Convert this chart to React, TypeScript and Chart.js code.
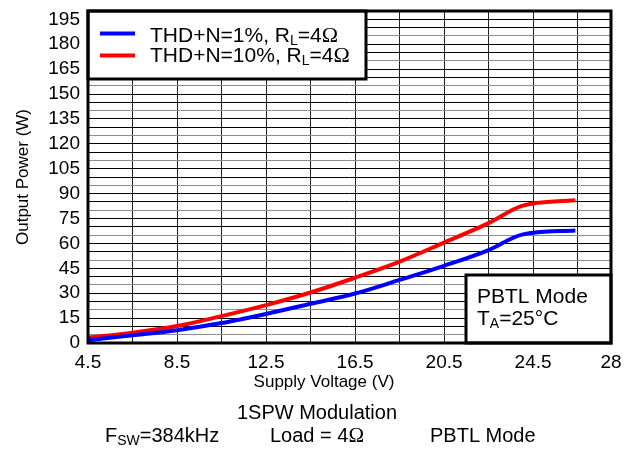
import React, { useEffect, useRef } from 'react';
import { Chart, registerables } from 'chart.js';

Chart.register(...registerables);

// ---- data ----
const VOLTAGE = [4.5, 6.5, 8.5, 10.5, 12.5, 14.5, 16.5, 18.5, 20.5, 22.5, 24, 26.4];
const THD_1 = [1.7, 4.6, 7.7, 12, 17.5, 23.6, 29.8, 38, 46.5, 56, 65.3, 67.8];
const THD_10 = [3.2, 6.2, 10.2, 16.2, 22.8, 30.4, 39.3, 49, 60.5, 72.2, 82.6, 86];

const X_GRID = [4.5, 6.5, 8.5, 10.5, 12.5, 14.5, 16.5, 18.5, 20.5, 22.5, 24.5, 26.5, 28];
const X_LABELS = [4.5, 8.5, 12.5, 16.5, 20.5, 24.5, 28];
const Y_LABELS = [0, 15, 30, 45, 60, 75, 90, 105, 120, 135, 150, 165, 180, 195];

const SANS = '"Liberation Sans", Arial, sans-serif';
const SERIF = '"Liberation Serif", "Times New Roman", serif';

type Part = { t: string; size: number; serif?: boolean; dy?: number };

function drawRich(ctx: CanvasRenderingContext2D, parts: Part[], x: number, y: number) {
  let cx = x;
  for (const p of parts) {
    ctx.font = `${p.size}px ${p.serif ? SERIF : SANS}`;
    ctx.fillText(p.t, cx, y + (p.dy || 0));
    cx += ctx.measureText(p.t).width;
  }
}

const overlay = {
  id: 'overlay',
  afterDraw(chart: any) {
    const { ctx, chartArea: a } = chart;
    ctx.save();
    ctx.fillStyle = '#000';
    ctx.textBaseline = 'alphabetic';
    ctx.textAlign = 'left';

    // legend box
    ctx.fillStyle = '#fff';
    ctx.fillRect(a.left, a.top, 278, 68);
    ctx.strokeStyle = '#000';
    ctx.lineWidth = 3;
    ctx.strokeRect(a.left, a.top, 278, 68);

    ctx.lineWidth = 4;
    ctx.strokeStyle = '#0000ff';
    ctx.beginPath();
    ctx.moveTo(a.left + 12, 33.5);
    ctx.lineTo(a.left + 47, 33.5);
    ctx.stroke();
    ctx.strokeStyle = '#ff0000';
    ctx.beginPath();
    ctx.moveTo(a.left + 12, 55.5);
    ctx.lineTo(a.left + 47, 55.5);
    ctx.stroke();

    ctx.fillStyle = '#000';
    drawRich(ctx, [
      { t: 'THD+N=1%, R', size: 21 },
      { t: 'L', size: 14, dy: 3 },
      { t: '=4', size: 21 },
      { t: 'Ω', size: 22, serif: true },
    ], 150, 42);
    drawRich(ctx, [
      { t: 'THD+N=10%, R', size: 21 },
      { t: 'L', size: 14, dy: 3 },
      { t: '=4', size: 21 },
      { t: 'Ω', size: 22, serif: true },
    ], 150, 62);

    // PBTL box
    const bx = 466, by = 275;
    ctx.fillStyle = '#fff';
    ctx.fillRect(bx, by, a.right - bx, a.bottom - by);
    ctx.strokeStyle = '#000';
    ctx.lineWidth = 3;
    ctx.strokeRect(bx, by, a.right - bx, a.bottom - by);
    ctx.fillStyle = '#000';
    drawRich(ctx, [{ t: 'PBTL Mode', size: 21 }], 477, 303);
    drawRich(ctx, [
      { t: 'T', size: 21 },
      { t: 'A', size: 14, dy: 3 },
      { t: '=25°C', size: 21 },
    ], 477, 325);

    // plot border
    ctx.lineWidth = 3;
    ctx.strokeRect(a.left, a.top, a.right - a.left, a.bottom - a.top);

    // axis titles
    ctx.font = `17px ${SANS}`;
    ctx.textAlign = 'center';
    ctx.textBaseline = 'middle';
    ctx.fillText('Supply Voltage (V)', 324, 382);
    ctx.save();
    ctx.translate(23, 177);
    ctx.rotate(-Math.PI / 2);
    ctx.fillText('Output Power (W)', 0, 0);
    ctx.restore();

    // caption lines
    ctx.font = `20px ${SANS}`;
    ctx.fillText('1SPW Modulation', 317, 413);
    ctx.textAlign = 'left';
    ctx.textBaseline = 'alphabetic';
    drawRich(ctx, [
      { t: 'F', size: 20 },
      { t: 'SW', size: 14, dy: 3 },
      { t: '=384kHz', size: 20 },
    ], 105, 442);
    drawRich(ctx, [
      { t: 'Load = 4', size: 20 },
      { t: 'Ω', size: 21, serif: true },
    ], 270, 442);
    drawRich(ctx, [{ t: 'PBTL Mode', size: 20 }], 430, 442);

    ctx.restore();
  },
};

export default function App() {
  const ref = useRef<HTMLCanvasElement>(null);

  useEffect(() => {
    if (!ref.current) return;
    const chart = new Chart(ref.current, {
      type: 'line',
      data: {
        datasets: [
          {
            label: 'THD+N=1%, RL=4Ω',
            data: VOLTAGE.map((v, i) => ({ x: v, y: THD_1[i] })),
            borderColor: '#0000ff',
            borderWidth: 4,
            pointRadius: 0,
            cubicInterpolationMode: 'monotone',
          },
          {
            label: 'THD+N=10%, RL=4Ω',
            data: VOLTAGE.map((v, i) => ({ x: v, y: THD_10[i] })),
            borderColor: '#ff0000',
            borderWidth: 4,
            pointRadius: 0,
            cubicInterpolationMode: 'monotone',
          },
        ],
      },
      options: {
        animation: false,
        responsive: false,
        events: [],
        layout: { padding: { left: 0, top: 11, right: 22, bottom: 0 } },
        plugins: { legend: { display: false }, tooltip: { enabled: false }, title: { display: false } },
        scales: {
          x: {
            type: 'linear',
            min: 4.5,
            max: 28,
            afterBuildTicks: (scale: any) => {
              scale.ticks = X_GRID.map((v) => ({ value: v }));
            },
            afterFit: (scale: any) => {
              scale.height = 106;
              scale.paddingLeft = 0;
              scale.paddingRight = 0;
            },
            ticks: {
              autoSkip: false,
              maxRotation: 0,
              padding: 8,
              color: '#000',
              font: { family: SANS, size: 19 },
              callback: (v: any) => (X_LABELS.includes(Number(v)) ? String(v) : ''),
            },
            grid: { color: '#222', lineWidth: 1, drawTicks: false },
            border: { display: false },
          },
          y: {
            min: 0,
            max: 200,
            afterBuildTicks: (scale: any) => {
              const t = [];
              for (let v = 0; v <= 200; v += 5) t.push({ value: v });
              scale.ticks = t;
            },
            afterFit: (scale: any) => {
              scale.width = 88;
              scale.paddingTop = 0;
              scale.paddingBottom = 0;
            },
            ticks: {
              autoSkip: false,
              padding: 8,
              color: '#000',
              font: { family: SANS, size: 19 },
              callback: (v: any) => (Y_LABELS.includes(Number(v)) ? String(v) : ''),
            },
            grid: {
              drawTicks: false,
              lineWidth: 1,
              color: (c: any) => (c.tick && c.tick.value % 15 === 5 ? '#8c8c8c' : '#000'),
            },
            border: { display: false },
          },
        },
      },
      plugins: [overlay],
    } as any);
    return () => chart.destroy();
  }, []);

  return (
    <div style={{ position: 'absolute', left: 0, top: 0, width: 633, height: 449, background: '#fff' }}>
      <canvas ref={ref} width={633} height={449} style={{ display: 'block' }} />
    </div>
  );
}
